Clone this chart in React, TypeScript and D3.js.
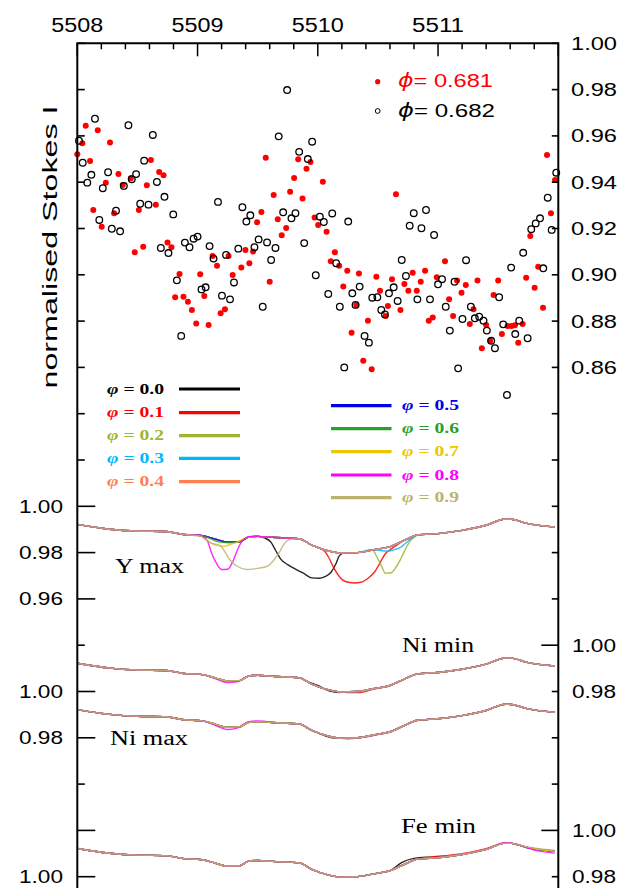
import React from "react";
import * as d3 from "d3";

const W = 634;
const H = 888;

// ---------- axis values ----------
const wavelengthMajor = [5508, 5509, 5510, 5511];
const wavelengthDomain = [5508, 5512];
const topFluxTicks = [1.0, 0.98, 0.96, 0.94, 0.92, 0.9, 0.88, 0.86];

// ---------- observed spectra (wavelength, normalised Stokes I) ----------
const phase681: number[][] = [
  [5508.000,0.9521],[5508.042,0.9568],[5508.070,0.9644],[5508.106,0.9492],[5508.170,0.9624],[5508.272,0.9571],
  [5508.133,0.9280],[5508.203,0.9208],[5508.237,0.9398],[5508.306,0.9266],[5508.342,0.9435],[5508.378,0.9388],
  [5508.445,0.9417],[5508.578,0.9387],[5508.612,0.9496],[5508.681,0.9444],[5508.717,0.9430],[5508.653,0.9303],
  [5508.512,0.9280],[5508.478,0.9097],[5508.548,0.9121],[5508.750,0.9140],[5508.783,0.9119],[5508.850,0.9003],
  [5508.814,0.8903],[5508.883,0.8905],[5509.022,0.9002],[5509.056,0.8908],[5509.125,0.9081],[5509.162,0.9039],
  [5509.258,0.9081],[5509.292,0.8999],[5509.364,0.9031],[5509.431,0.9050],[5509.398,0.9107],[5509.462,0.9101],
  [5509.495,0.9227],[5509.531,0.9271],[5509.600,0.8970],[5509.633,0.9345],[5509.667,0.9240],[5509.700,0.9171],
  [5509.737,0.9202],[5509.770,0.9359],[5509.803,0.9418],[5509.837,0.9499],[5509.873,0.9330],[5509.906,0.9458],
  [5509.939,0.9487],[5510.042,0.9402],[5509.973,0.9248],[5510.003,0.9215],[5510.073,0.9186],[5510.108,0.9059],
  [5510.142,0.9097],[5510.178,0.9039],[5510.245,0.9018],[5510.212,0.8949],[5510.342,0.9006],[5509.567,0.9506],
  [5508.920,0.8884],[5508.953,0.8848],[5508.989,0.8790],[5509.092,0.8783],[5509.192,0.8834],[5509.228,0.8851],
  [5510.281,0.8750],[5510.320,0.8870],
  [5511.906,0.9518],[5511.939,0.9266],[5511.973,0.9410],[5511.767,0.9168],[5510.650,0.9348],
  [5510.378,0.8629],[5510.417,0.8802],[5510.448,0.8592],[5510.487,0.8992],[5510.517,0.8931],[5510.564,0.8822],
  [5510.583,0.8865],[5510.617,0.8981],[5510.687,0.8848],[5510.720,0.8960],[5510.753,0.8931],[5510.789,0.9009],
  [5510.823,0.8931],[5510.856,0.8970],[5510.892,0.9018],[5510.923,0.8802],[5510.956,0.8816],[5510.989,0.8989],
  [5511.058,0.9058],[5511.092,0.8894],[5511.125,0.8822],[5511.158,0.8975],[5511.195,0.8923],[5511.231,0.8956],
  [5511.264,0.8787],[5511.295,0.8851],[5511.328,0.8975],[5511.364,0.8683],[5511.400,0.8783],[5511.433,0.8715],
  [5511.462,0.8913],[5511.500,0.8975],[5511.531,0.8744],[5511.578,0.8779],[5511.612,0.8779],[5511.639,0.8782],
  [5511.667,0.8707],[5511.703,0.8787],[5511.733,0.8987],[5511.803,0.8944],[5511.833,0.9035],[5511.873,0.8858],
];

const phase682: number[][] = [
  [5508.014,0.9579],[5508.045,0.9484],[5508.083,0.9398],[5508.117,0.9432],[5508.147,0.9674],[5508.183,0.9237],
  [5508.212,0.9374],[5508.256,0.9443],[5508.287,0.9199],[5508.322,0.9277],[5508.356,0.9188],[5508.387,0.9384],
  [5508.425,0.9646],[5508.453,0.9413],[5508.489,0.9435],[5508.523,0.9307],[5508.556,0.9493],[5508.592,0.9303],
  [5508.628,0.9604],[5508.662,0.9401],[5508.725,0.9337],[5508.798,0.9261],[5508.695,0.9116],[5508.758,0.9094],
  [5508.828,0.8976],[5508.895,0.9139],[5508.933,0.9119],[5508.967,0.9156],[5509.000,0.9165],[5509.033,0.8937],
  [5509.067,0.8946],[5509.100,0.9124],[5509.133,0.9070],[5509.170,0.9315],[5509.203,0.8910],[5509.237,0.9086],
  [5509.270,0.8894],[5509.303,0.8967],[5509.339,0.9113],[5509.373,0.9292],[5509.406,0.9230],[5509.439,0.9257],
  [5509.473,0.9119],[5509.508,0.9153],[5509.578,0.9140],[5509.612,0.9064],[5509.648,0.9116],[5509.675,0.9598],
  [5509.712,0.9270],[5509.781,0.9244],[5509.814,0.9266],[5509.845,0.9531],[5509.887,0.9137],[5509.917,0.9500],
  [5509.953,0.9575],[5509.983,0.8998],[5510.017,0.9251],[5510.050,0.9228],[5510.087,0.8917],[5510.120,0.9265],
  [5510.153,0.9050],[5510.253,0.9230],[5510.287,0.8920],[5510.348,0.8949],[5509.745,0.9798],
  [5508.864,0.8736],[5509.542,0.8862],[5510.183,0.8862],[5510.220,0.8600],[5510.314,0.8870],
  [5511.912,0.9333],[5511.983,0.9441],[5511.945,0.9194],[5511.848,0.9244],[5511.812,0.9222],[5511.775,0.9197],
  [5511.708,0.9095],[5510.967,0.9172],[5510.900,0.9280],[5510.862,0.9201],[5510.798,0.9266],[5510.764,0.9212],
  [5510.698,0.9064],
  [5510.389,0.8736],[5510.425,0.8707],[5510.453,0.8901],[5510.495,0.8903],[5510.528,0.8848],[5510.558,0.8829],
  [5510.592,0.8920],[5510.631,0.8946],[5510.664,0.8887],[5510.733,0.8995],[5510.828,0.8894],[5510.933,0.8894],
  [5511.000,0.8959],[5511.033,0.8981],[5511.064,0.8862],[5511.098,0.8759],[5511.137,0.8970],[5511.167,0.8596],
  [5511.203,0.8809],[5511.233,0.9063],[5511.273,0.8862],[5511.306,0.8812],[5511.342,0.8819],[5511.378,0.8802],
  [5511.406,0.8759],[5511.442,0.8715],[5511.473,0.8683],[5511.508,0.8903],[5511.542,0.8786],[5511.573,0.8481],
  [5511.608,0.9031],[5511.642,0.8744],[5511.675,0.8802],[5511.745,0.8726],[5511.875,0.9028],
];

// ---------- synthetic profiles ----------
const phaseLabels = ["0.0", "0.1", "0.2", "0.3", "0.4", "0.5", "0.6", "0.7", "0.8", "0.9"];
const phaseColors = ["#000000", "#ff0000", "#9db531", "#00b7ff", "#ff7f50", "#0000e8", "#27a127", "#ecc600", "#ff00ff", "#bcb36e"];

const baseProfile: number[][] = [
  [5508.00,0.9922],[5508.27,0.9901],[5508.50,0.9893],[5508.74,0.9891],[5508.87,0.9879],[5509.04,0.9873],
  [5509.15,0.9858],[5509.25,0.9845],[5509.35,0.9847],[5509.42,0.9866],[5509.50,0.9870],[5509.62,0.9866],
  [5509.85,0.9859],[5509.95,0.9832],[5510.09,0.9807],[5510.19,0.9798],[5510.33,0.9800],[5510.46,0.9812],
  [5510.60,0.9826],[5510.73,0.9856],[5510.83,0.9876],[5511.00,0.9882],[5511.20,0.9896],[5511.40,0.9918],
  [5511.56,0.9945],[5511.61,0.9944],[5511.74,0.9926],[5511.97,0.9910],
];

const yMaxDips: Record<string, number[][]> = {
  "0.0": [[5509.56,0.9863],[5509.61,0.9845],[5509.65,0.9809],[5509.69,0.9773],[5509.75,0.9748],[5509.81,0.9730],
          [5509.88,0.9711],[5509.95,0.9691],[5510.01,0.9689],[5510.06,0.9696],[5510.11,0.9715],[5510.15,0.9751],
          [5510.18,0.9787],[5510.22,0.9799]],
  "0.1": [[5510.05,0.9809],[5510.09,0.9780],[5510.13,0.9737],[5510.18,0.9696],[5510.23,0.9675],[5510.30,0.9669],
          [5510.36,0.9672],[5510.41,0.9686],[5510.47,0.9715],[5510.52,0.9758],[5510.56,0.9794],[5510.61,0.9816],
          [5510.65,0.9830]],
  "0.2": [[5510.45,0.9812],[5510.50,0.9773],[5510.54,0.9730],[5510.56,0.9711],[5510.61,0.9713],[5510.65,0.9737],
          [5510.69,0.9773],[5510.73,0.9816],[5510.77,0.9852],[5510.81,0.9870]],
  "0.3": [[5510.45,0.9813],[5510.52,0.9809],[5510.58,0.9806],[5510.63,0.9812],[5510.69,0.9823],[5510.74,0.9845],
          [5510.80,0.9868]],
  "0.6": [[5509.08,0.9866],[5509.19,0.9845],[5509.27,0.9842],[5509.35,0.9849],[5509.42,0.9866]],
  "0.7": [[5509.02,0.9872],[5509.05,0.9863],[5509.11,0.9842],[5509.16,0.9830],[5509.22,0.9827],[5509.27,0.9835],
          [5509.33,0.9845],[5509.38,0.9859],[5509.43,0.9867]],
  "0.8": [[5509.02,0.9875],[5509.08,0.9852],[5509.12,0.9794],[5509.16,0.9751],[5509.20,0.9727],[5509.25,0.9728],
          [5509.29,0.9758],[5509.33,0.9809],[5509.37,0.9849],[5509.44,0.9870]],
  "0.9": [[5509.02,0.9872],[5509.05,0.9863],[5509.11,0.9842],[5509.19,0.9830],[5509.23,0.9801],[5509.27,0.9768],
          [5509.33,0.9741],[5509.41,0.9727],[5509.50,0.9732],[5509.58,0.9741],[5509.63,0.9765],[5509.68,0.9801],
          [5509.72,0.9838],[5509.76,0.9856],[5509.82,0.9860]],
};

const niMinDips: Record<string, number[][]> = {
  "0.0": [[5509.90,0.9846],[5510.00,0.9826],[5510.10,0.9802],[5510.18,0.9796]],
  "0.1": [[5510.25,0.9796],[5510.35,0.9796],[5510.45,0.9808],[5510.55,0.9819]],
  "0.8": [[5509.15,0.9855],[5509.25,0.9839],[5509.33,0.9842],[5509.40,0.9862]],
};
const niMaxDips: Record<string, number[][]> = {
  "0.0": [[5509.92,0.9840],[5510.02,0.9817],[5510.12,0.9800]],
  "0.1": [[5510.25,0.9796],[5510.40,0.9804],[5510.50,0.9814]],
  "0.8": [[5509.15,0.9853],[5509.25,0.9836],[5509.33,0.9842],[5509.42,0.9869],[5509.50,0.9873],[5509.60,0.9869]],
};
const feMinDips: Record<string, number[][]> = {
  "0.0": [[5510.70,0.9862],[5510.80,0.9879],[5510.90,0.9884],[5511.00,0.9885]],
  "0.1": [[5510.95,0.9885],[5511.10,0.9893],[5511.25,0.9904],[5511.40,0.9921]],
  "0.8": [[5511.56,0.9948],[5511.65,0.9941],[5511.80,0.9915],[5511.97,0.9902]],
  "0.9": [[5511.74,0.9929],[5511.97,0.9914]],
};

const panelNames = ["Y max", "Ni min", "Ni max", "Fe min"];
const panelOffsets = [0.2, 0.26, 0.28, 0.34];
const panelDips = [yMaxDips, niMinDips, niMaxDips, feMinDips];

// per-panel tick labels
const yMaxLabels = [1.0, 0.98, 0.96];
const niMinLabels = [1.0, 0.98];
const niMaxLabels = [1.0, 0.98];
const feMinLabels = [1.0, 0.98];
const feMaxLabels = [1.0];

// ---------- geometry ----------
const LEFT = 77.3;
const RIGHT = 558.3;
const TOP = 43.3;
const xScale = d3.scaleLinear().domain(wavelengthDomain).range([LEFT, RIGHT]);
const yScale = d3.scaleLinear().domain([1.0, 0.98]).range([TOP, TOP + 46.3]);

function withDip(base: number[][], dip?: number[][]) {
  if (!dip || !dip.length) return base;
  const lo = dip[0][0];
  const hi = dip[dip.length - 1][0];
  return [...base.filter((p) => p[0] < lo), ...dip, ...base.filter((p) => p[0] > hi)];
}

const tickSteps = d3.range(0, 20);
const leftLong = new Set([10, 11, 12, 14, 15, 17, 18]);
const rightLong = new Set([13, 17]);

const SANS = "'Liberation Sans', Arial, Helvetica, sans-serif";
const SERIF = "'Liberation Serif', 'Times New Roman', serif";

export default function App() {
  const minorTicks = d3.range(5508, 5512.001, 0.2);
  const fmt = d3.format(".2f");

  const profileLine = (offset: number) =>
    d3
      .line<number[]>()
      .x((d) => xScale(d[0]))
      .y((d) => yScale(d[1] - offset))
      .curve(d3.curveMonotoneX);

  const labelSets = [
    { vals: yMaxLabels, off: 0.2, side: "left" },
    { vals: niMinLabels, off: 0.26, side: "right" },
    { vals: niMaxLabels, off: 0.28, side: "left" },
    { vals: feMinLabels, off: 0.34, side: "right" },
    { vals: feMaxLabels, off: 0.36, side: "left" },
  ];

  const panelLabelPos = [
    { x: 115, y: 573, len: 69 },
    { x: 402, y: 652, len: 72 },
    { x: 110, y: 745, len: 78 },
    { x: 401, y: 832.5, len: 75 },
  ];

  const legendLeftRows = [389, 412.7, 435.7, 458.3, 481.7];
  const legendRightRows = [405.7, 428.7, 451.7, 475, 497.7];

  return (
    <svg
      width={W}
      height={H}
      viewBox={`0 0 ${W} ${H}`}
      style={{ position: "fixed", left: 0, top: 0, background: "#fff" }}
    >
      <rect x={0} y={0} width={W} height={H} fill="#fff" />

      {/* synthetic profiles */}
      {panelOffsets.map((off, pi) => (
        <g key={"panel" + pi}>
          {phaseLabels.map((ph, k) => (
            <path
              key={ph}
              d={profileLine(off)(withDip(baseProfile, panelDips[pi][ph])) || ""}
              fill="none"
              stroke={phaseColors[k]}
              strokeWidth={1.4}
              strokeOpacity={0.85}
              strokeLinejoin="round"
            />
          ))}
          <text
            x={panelLabelPos[pi].x}
            y={panelLabelPos[pi].y}
            fontFamily={SERIF}
            fontSize={20}
            textLength={panelLabelPos[pi].len}
            lengthAdjust="spacingAndGlyphs"
            fill="#000"
          >
            {panelNames[pi]}
          </text>
        </g>
      ))}

      {/* observed points */}
      {phase681.map((d, i) => (
        <circle key={"r" + i} cx={xScale(d[0])} cy={yScale(d[1])} r={3} fill="#ff0000" />
      ))}
      {phase682.map((d, i) => (
        <circle key={"b" + i} cx={xScale(d[0])} cy={yScale(d[1])} r={3.3} fill="none" stroke="#000" strokeWidth={1.3} />
      ))}

      {/* frame */}
      <path
        d={`M${LEFT},${H + 5}V${TOP}H${RIGHT}V${H + 5}`}
        fill="none"
        stroke="#000"
        strokeWidth={2}
      />

      {/* top ticks */}
      {minorTicks.map((v, i) => {
        const major = Math.abs(v - Math.round(v)) < 1e-6;
        return (
          <line
            key={"tx" + i}
            x1={xScale(v)}
            x2={xScale(v)}
            y1={TOP}
            y2={TOP + (major ? 13 : 6)}
            stroke="#000"
            strokeWidth={1.5}
          />
        );
      })}
      {wavelengthMajor.map((v) => (
        <text
          key={"wl" + v}
          x={xScale(v)}
          y={31.5}
          textAnchor="middle"
          fontFamily={SANS}
          fontSize={20}
          textLength={52}
          lengthAdjust="spacingAndGlyphs"
        >
          {v}
        </text>
      ))}

      {/* side ticks */}
      {tickSteps.map((k) => {
        const y = yScale(1 - 0.02 * k);
        return (
          <g key={"st" + k}>
            <line x1={LEFT} x2={LEFT + (leftLong.has(k) ? 18 : 7.5)} y1={y} y2={y} stroke="#000" strokeWidth={1.6} />
            <line x1={RIGHT} x2={RIGHT - (rightLong.has(k) ? 17 : 6.5)} y1={y} y2={y} stroke="#000" strokeWidth={1.6} />
          </g>
        );
      })}

      {/* top panel right labels */}
      {topFluxTicks.map((v) => (
        <text
          key={"tf" + v}
          x={571}
          y={yScale(v) + 6.5}
          fontFamily={SANS}
          fontSize={19}
          textLength={46}
          lengthAdjust="spacingAndGlyphs"
        >
          {fmt(v)}
        </text>
      ))}

      {/* panel labels */}
      {labelSets.map((s, si) =>
        s.vals.map((v) => (
          <text
            key={"pl" + si + v}
            x={s.side === "left" ? 63 : 572}
            y={yScale(v - s.off) + 6.5}
            textAnchor={s.side === "left" ? "end" : "start"}
            fontFamily={SANS}
            fontSize={19}
            textLength={44}
            lengthAdjust="spacingAndGlyphs"
          >
            {fmt(v)}
          </text>
        ))
      )}

      {/* y-axis title */}
      <text
        transform="translate(57,247) rotate(-90)"
        textAnchor="middle"
        fontFamily={SANS}
        fontSize={20}
        textLength={283}
        lengthAdjust="spacingAndGlyphs"
      >
        normalised Stokes I
      </text>

      {/* observation legend */}
      <circle cx={377.7} cy={81.7} r={2.6} fill="#ff0000" />
      <text x={398} y={87} fontFamily={SANS} fontSize={19} fill="#ff0000" textLength={95} lengthAdjust="spacingAndGlyphs">
        <tspan fontFamily="'DejaVu Sans', sans-serif" fontStyle="italic">ϕ</tspan>= 0.681
      </text>
      <circle cx={377.7} cy={111} r={2.4} fill="none" stroke="#000" strokeWidth={1} />
      <text x={398} y={116.5} fontFamily={SANS} fontSize={19} fill="#000" textLength={97} lengthAdjust="spacingAndGlyphs">
        <tspan fontFamily="'DejaVu Sans', sans-serif" fontStyle="italic">ϕ</tspan>= 0.682
      </text>

      {/* phase legend */}
      {phaseLabels.slice(0, 5).map((ph, i) => (
        <g key={"lgL" + ph}>
          <text
            x={107}
            y={legendLeftRows[i] + 4.5}
            fontFamily={SERIF}
            fontWeight="bold"
            fontSize={14}
            fill={phaseColors[i]}
            textLength={57}
            lengthAdjust="spacingAndGlyphs"
          >
            <tspan fontStyle="italic">φ</tspan> = {ph}
          </text>
          <line x1={179} x2={240} y1={legendLeftRows[i]} y2={legendLeftRows[i]} stroke={phaseColors[i]} strokeWidth={3.2} />
        </g>
      ))}
      {phaseLabels.slice(5).map((ph, i) => (
        <g key={"lgR" + ph}>
          <line x1={331} x2={391.5} y1={legendRightRows[i]} y2={legendRightRows[i]} stroke={phaseColors[i + 5]} strokeWidth={3.2} />
          <text
            x={402}
            y={legendRightRows[i] + 4.5}
            fontFamily={SERIF}
            fontWeight="bold"
            fontSize={14}
            fill={phaseColors[i + 5]}
            textLength={57}
            lengthAdjust="spacingAndGlyphs"
          >
            <tspan fontStyle="italic">φ</tspan> = {ph}
          </text>
        </g>
      ))}
    </svg>
  );
}
